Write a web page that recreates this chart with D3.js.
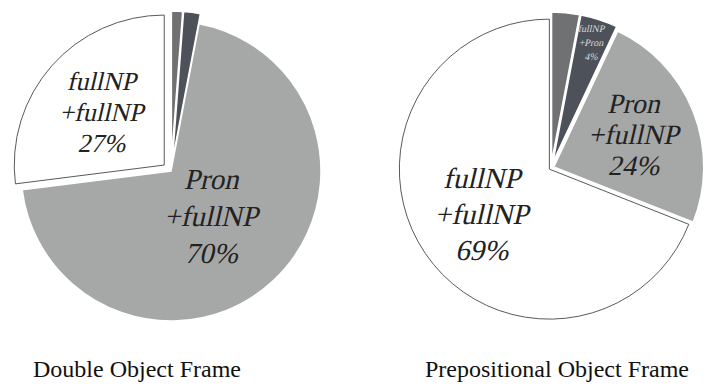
<!DOCTYPE html>
<html>
<head>
<meta charset="utf-8">
<script src="https://cdn.jsdelivr.net/npm/d3@7"></script>
<style>
  body { margin: 0; background: #fff; }
  svg { display: block; }
</style>
</head>
<body>
<svg id="chart"></svg>
<script>
// slice categories, in clockwise order from 12 o'clock
const categories = ['other', 'fullNP+Pron', 'Pron+fullNP', 'fullNP+fullNP'];
const labelLines = [null, ['fullNP', '+Pron'], ['Pron', '+fullNP'], ['fullNP', '+fullNP']];
const frames = ['Double Object Frame', 'Prepositional Object Frame'];
const doubleObject = [1.2, 1.8, 70, 27];
const prepositional = [3, 4, 24, 69];
const labelShown = [[false, false, true, true], [false, true, true, true]];

const width = 724;
const height = 390;
const radius = 150;
const serif = '"Liberation Serif", "Times New Roman", serif';

const color = d3.scaleOrdinal()
  .domain(categories)
  .range(['#707173', '#4c515a', '#a6a8a7', '#ffffff']);

// per pie: centre, explode distance per slice, label radius / font per slice
const pies = [
  {
    cx: 171, cy: 171, title: 137,
    explode: [10, 10, 0, 9],
    labelR: [0, 0, 62, 90],
    font: [0, 0, 29, 26],
    lineH: [0, 0, 37, 31]
  },
  {
    cx: 551, cy: 168, title: 557,
    explode: [6, 6, 3, 2],
    labelR: [0, 132, 91, 81],
    font: [0, 10, 28, 29],
    lineH: [0, 14, 31, 36]
  }
];

const svg = d3.select('#chart')
  .attr('width', width)
  .attr('height', height);

const pie = d3.pie().sort(null).value(d => d.value);
const arc = d3.arc().innerRadius(0).outerRadius(radius);

[doubleObject, prepositional].forEach((values, p) => {
  const cfg = pies[p];
  const data = categories.map((c, i) => ({ cat: c, value: values[i], idx: i }));
  const arcs = pie(data);

  const g = svg.append('g')
    .attr('transform', `translate(${cfg.cx},${cfg.cy})`);

  const slice = g.selectAll('g.slice')
    .data(arcs)
    .enter().append('g')
    .attr('class', 'slice')
    .attr('transform', d => {
      const a = (d.startAngle + d.endAngle) / 2;
      const e = cfg.explode[d.data.idx];
      return `translate(${e * Math.sin(a)},${-e * Math.cos(a)})`;
    });

  slice.append('path')
    .attr('d', arc)
    .attr('fill', d => color(d.data.cat))
    .attr('stroke', d => (d.data.cat === 'fullNP+fullNP' ? '#5a5a5a' : '#ffffff'))
    .attr('stroke-width', d => (d.data.cat === 'fullNP+fullNP' ? 1 : 1.5))
    .attr('stroke-linejoin', 'miter');

  const label = slice.filter(d => labelShown[p][d.data.idx])
    .append('g')
    .attr('font-family', serif)
    .attr('font-size', d => cfg.font[d.data.idx])
    .attr('fill', d => (d.data.cat === 'fullNP+Pron' ? '#d8d8d8' : '#222'))
    .attr('transform', d => {
      const a = (d.startAngle + d.endAngle) / 2;
      const r = cfg.labelR[d.data.idx] - cfg.explode[d.data.idx];
      return `translate(${r * Math.sin(a)},${-r * Math.cos(a)})`;
    });

  // serif italic made by slanting each upright line about its own centre
  label.selectAll('text')
    .data(d => {
      const lines = labelLines[d.data.idx].concat([`${Math.round(d.data.value)}%`]);
      const lh = cfg.lineH[d.data.idx];
      return lines.map((t, i) => ({ t, y: (i - 1) * lh }));
    })
    .enter().append('text')
    .attr('text-anchor', 'middle')
    .attr('transform', d => `translate(0,${d.y}) skewX(-13)`)
    .attr('dy', '0.35em')
    .text(d => d.t);

  svg.append('text')
    .attr('x', cfg.title)
    .attr('y', 377)
    .attr('text-anchor', 'middle')
    .attr('font-family', serif)
    .attr('font-size', 24)
    .attr('fill', '#111')
    .text(frames[p]);
});
</script>
</body>
</html>
